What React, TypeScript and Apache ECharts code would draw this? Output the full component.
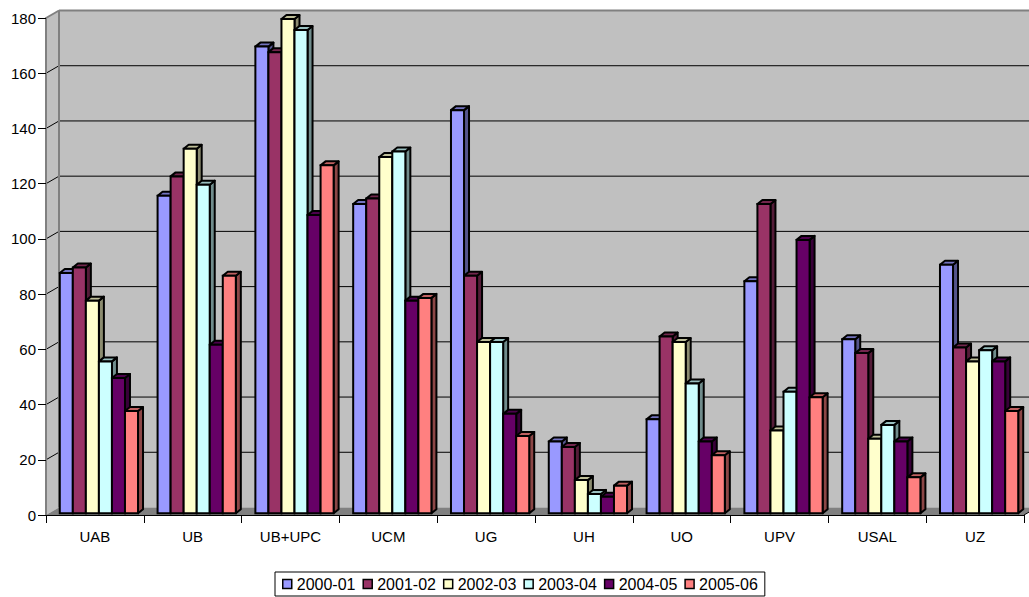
import React, { useEffect, useRef } from "react";
import * as echarts from "echarts";

const CATEGORIES = ["UAB", "UB", "UB+UPC", "UCM", "UG", "UH", "UO", "UPV", "USAL", "UZ"];
const YEARS = ["2000-01", "2001-02", "2002-03", "2003-04", "2004-05", "2005-06"];
const S_2000_01 = [87, 115, 169, 112, 146, 26, 34, 84, 63, 90];
const S_2001_02 = [89, 122, 167, 114, 86, 24, 64, 112, 58, 60];
const S_2002_03 = [77, 132, 179, 129, 62, 12, 62, 30, 27, 55];
const S_2003_04 = [55, 119, 175, 131, 62, 7, 47, 44, 32, 59];
const S_2004_05 = [49, 61, 108, 77, 36, 6, 26, 99, 26, 55];
const S_2005_06 = [37, 86, 126, 78, 28, 10, 21, 42, 13, 37];
const SERIES_VALUES = [S_2000_01, S_2001_02, S_2002_03, S_2003_04, S_2004_05, S_2005_06];
const Y_TICKS = [0, 20, 40, 60, 80, 100, 120, 140, 160, 180];
const Y_MIN = 0;
const Y_MAX = 180;
const Y_INTERVAL = 20;

const COLORS = ["#9999FF", "#993366", "#FFFFCC", "#CCFFFF", "#660066", "#FF8080"];
const FONT = '"Liberation Sans", Arial, Helvetica, sans-serif';

// 3D geometry (pixels)
const DX = 13; // wall depth x
const DY = -7.5; // wall depth y
const BDX = 5; // bar depth x
const BDY = -4; // bar depth y
const SX = (DX - BDX) / 2;
const SY = (DY - BDY) / 2;
const CAT_GAP = 0.2;
const LW = 2;

function shade(hex: string, f: number): string {
  const n = parseInt(hex.slice(1), 16);
  const r = Math.round(((n >> 16) & 255) * f);
  const g = Math.round(((n >> 8) & 255) * f);
  const b = Math.round((n & 255) * f);
  return `rgb(${r},${g},${b})`;
}

const makeBarRender = (s: number) => (params: any, api: any) => {
  const ci = api.value(0);
  const v = api.value(1);
  const band = api.size([1, 0])[0];
  const base = api.coord([ci, 0]);
  const top = api.coord([ci, v]);
  const groupW = band * (1 - CAT_GAP);
  const bw = groupW / SERIES_VALUES.length;
  const x = base[0] - groupW / 2 + s * bw + SX;
  const yb = base[1] + SY;
  const yt = top[1] + SY;
  const col = COLORS[s];
  return {
    type: "group",
    children: [
      {
        type: "polygon",
        shape: { points: [[x + bw, yt], [x + bw + BDX, yt + BDY], [x + bw + BDX, yb + BDY], [x + bw, yb]] },
        style: { fill: shade(col, 0.55), stroke: "#000", lineWidth: LW, lineJoin: "round" },
      },
      {
        type: "polygon",
        shape: { points: [[x, yt], [x + bw, yt], [x + bw + BDX, yt + BDY], [x + BDX, yt + BDY]] },
        style: { fill: shade(col, 0.75), stroke: "#000", lineWidth: LW, lineJoin: "round" },
      },
      {
        type: "rect",
        shape: { x, y: yt, width: bw, height: yb - yt },
        style: { fill: col, stroke: "#000", lineWidth: LW },
      },
    ],
  };
};

const renderWalls = (params: any, api: any) => {
  const cs = params.coordSys;
  const xl = cs.x;
  const xr = cs.x + cs.width;
  const yt = cs.y;
  const yb = cs.y + cs.height;
  const children: any[] = [];
  children.push({
    type: "rect",
    shape: { x: xl + DX, y: yt + DY, width: cs.width, height: cs.height },
    style: { fill: "#C0C0C0" },
  });
  children.push({
    type: "polygon",
    shape: { points: [[xl, yt], [xl + DX, yt + DY], [xl + DX, yb + DY], [xl, yb]] },
    style: { fill: "#C0C0C0" },
  });
  children.push({
    type: "polygon",
    shape: { points: [[xl, yb], [xl + DX, yb + DY], [xr + DX, yb + DY], [xr, yb]] },
    style: { fill: "#808080" },
  });
  Y_TICKS.forEach((v) => {
    if (v === Y_MIN) return;
    const y = api.coord([0, v])[1];
    const isTop = v === Y_MAX;
    const stroke = isTop ? "#808080" : "#000";
    const lw = isTop ? 2 : 1;
    children.push({
      type: "line",
      shape: { x1: xl + DX, y1: y + DY, x2: xr + DX, y2: y + DY },
      style: { stroke, lineWidth: lw },
    });
    children.push({
      type: "line",
      shape: { x1: xl, y1: y, x2: xl + DX, y2: y + DY },
      style: { stroke, lineWidth: lw },
    });
  });
  children.push({
    type: "line",
    shape: { x1: xl + DX, y1: yt + DY, x2: xl + DX, y2: yb + DY },
    style: { stroke: "#808080", lineWidth: 2 },
  });
  children.push({
    type: "line",
    shape: { x1: xr, y1: yb, x2: xr + DX, y2: yb + DY },
    style: { stroke: "#000", lineWidth: 1 },
  });
  return { type: "group", children };
};

export default function App() {
  const ref = useRef<HTMLDivElement>(null);
  useEffect(() => {
    if (!ref.current) return;
    const chart = echarts.init(ref.current, undefined, { renderer: "svg" });
    const barSeries = SERIES_VALUES.map((vals, s) => ({
      name: YEARS[s],
      type: "custom",
      renderItem: makeBarRender(s),
      data: vals.map((v, i) => [i, v]),
      itemStyle: { color: COLORS[s], borderColor: "#000", borderWidth: 1 },
      clip: false,
      z: 3,
    }));
    chart.setOption({
      animation: false,
      backgroundColor: "#fff",
      textStyle: { fontFamily: FONT },
      grid: { left: 46, right: 5, top: 18, bottom: 82 },
      xAxis: {
        type: "category",
        data: CATEGORIES,
        boundaryGap: true,
        z: 5,
        axisLine: { show: true, lineStyle: { color: "#000", width: 1 } },
        axisTick: { show: true, length: 8, lineStyle: { color: "#000", width: 1 } },
        axisLabel: { fontSize: 15, color: "#000", margin: 14, fontFamily: FONT },
        splitLine: { show: false },
      },
      yAxis: {
        type: "value",
        min: Y_MIN,
        max: Y_MAX,
        interval: Y_INTERVAL,
        z: 5,
        axisLine: { show: true, lineStyle: { color: "#808080", width: 2 } },
        axisTick: { show: true, length: 8, lineStyle: { color: "#000", width: 1 } },
        axisLabel: { fontSize: 15, color: "#000", margin: 10, fontFamily: FONT },
        splitLine: { show: false },
      },
      legend: {
        data: YEARS,
        left: 275,
        top: 572,
        orient: "horizontal",
        icon: "rect",
        itemWidth: 9,
        itemHeight: 9,
        itemGap: 7,
        padding: [4, 7],
        borderColor: "#000",
        borderWidth: 1,
        itemStyle: { borderColor: "#000", borderWidth: 1.5 },
        textStyle: { fontSize: 16, color: "#000", fontFamily: FONT },
      },
      series: [
        {
          name: "walls",
          type: "custom",
          renderItem: renderWalls,
          data: [[0, 0]],
          silent: true,
          clip: false,
          z: 1,
        },
        ...barSeries,
      ],
    });
    return () => chart.dispose();
  }, []);
  return (
    <div
      ref={ref}
      style={{ position: "fixed", left: 0, top: 0, width: 1029, height: 597, background: "#fff" }}
    />
  );
}
